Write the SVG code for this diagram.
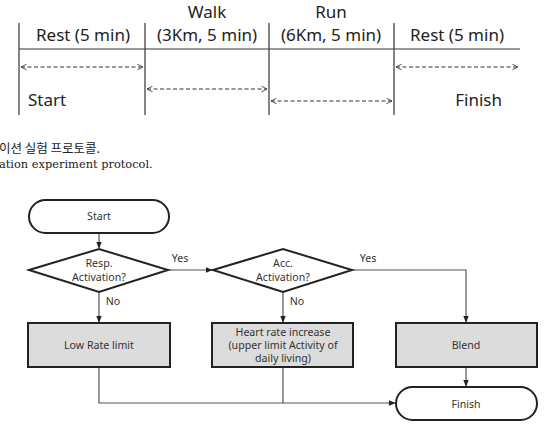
<svg xmlns="http://www.w3.org/2000/svg" width="550" height="427" viewBox="0 0 550 427">
<defs>
<style>
.top{font-family:"Noto Sans","Open Sans",sans-serif;font-size:17px;fill:#222}
.cap{font-family:"DejaVu Serif","Liberation Serif","Noto Sans CJK KR",serif;font-size:11.4px;fill:#222}
.capk{font-family:"Noto Sans CJK KR",serif;font-size:12.5px;fill:#222}
.ft{font-family:"Noto Sans","Open Sans",sans-serif;font-size:10.6px;fill:#333;text-anchor:middle}
.ln{stroke:#333;stroke-width:1.2;fill:none}
.dash{stroke:#333;stroke-width:1;stroke-dasharray:4,2.5;fill:none}
.node{stroke:#222;stroke-width:2}
.box{fill:#dcdcdc}
.term{fill:#fff}
.con{stroke:#555;stroke-width:1.2;fill:none}
</style>
<marker id="oa" viewBox="0 0 10 10" refX="9" refY="5" markerWidth="7" markerHeight="7" orient="auto-start-reverse"><path d="M1,1 L9,5 L1,9" fill="none" stroke="#333" stroke-width="1.2"/></marker>
<marker id="ah" viewBox="0 0 10 10" refX="9" refY="5" markerWidth="6" markerHeight="6" orient="auto"><path d="M0,1 L10,5 L0,9 Z" fill="#222"/></marker>
</defs>
<g id="protocol">
<line class="ln" x1="19" y1="23" x2="19" y2="115"/>
<line class="ln" x1="145" y1="23" x2="145" y2="115"/>
<line class="ln" x1="269" y1="23" x2="269" y2="115"/>
<line class="ln" x1="394" y1="23" x2="394" y2="115"/>
<line class="ln" x1="19" y1="49" x2="520" y2="49"/>
<text class="top" x="83" y="41" text-anchor="middle">Rest (5 min)</text>
<text class="top" x="207" y="18" text-anchor="middle">Walk</text>
<text class="top" x="207" y="41" text-anchor="middle">(3Km, 5 min)</text>
<text class="top" x="331" y="18" text-anchor="middle">Run</text>
<text class="top" x="331" y="41" text-anchor="middle">(6Km, 5 min)</text>
<text class="top" x="457" y="41" text-anchor="middle">Rest (5 min)</text>
<line class="dash" x1="21" y1="67" x2="143" y2="67" marker-start="url(#oa)" marker-end="url(#oa)"/>
<line class="dash" x1="147" y1="89" x2="267" y2="89" marker-start="url(#oa)" marker-end="url(#oa)"/>
<line class="dash" x1="271" y1="101" x2="392" y2="101" marker-start="url(#oa)" marker-end="url(#oa)"/>
<line class="dash" x1="396" y1="67" x2="518" y2="67" marker-start="url(#oa)" marker-end="url(#oa)"/>
<text class="top" x="28" y="106">Start</text>
<text class="top" x="502" y="106" text-anchor="end">Finish</text>
</g>
<g id="caption">
<text class="capk" x="-1" y="153">이션 실험 프로토콜.</text>
<text class="cap" x="-1" y="168">ation experiment protocol.</text>
</g>
<g id="connectors">
<line class="con" x1="99" y1="233" x2="99" y2="248" marker-end="url(#ah)"/>
<line class="con" x1="168" y1="270" x2="212" y2="270" marker-end="url(#ah)"/>
<line class="con" x1="99" y1="292" x2="99" y2="322" marker-end="url(#ah)"/>
<line class="con" x1="283" y1="292" x2="283" y2="322" marker-end="url(#ah)"/>
<polyline class="con" points="352,270 466,270 466,322" marker-end="url(#ah)"/>
<line class="con" x1="466" y1="367" x2="466" y2="386" marker-end="url(#ah)"/>
<polyline class="con" points="99,367 99,403 395,403" marker-end="url(#ah)"/>
<line class="con" x1="283" y1="367" x2="283" y2="403"/>
<text class="ft" x="180" y="262">Yes</text>
<text class="ft" x="368" y="262">Yes</text>
<text class="ft" x="113" y="305">No</text>
<text class="ft" x="297" y="305">No</text>
</g>
<g id="start"><rect class="node term" x="29" y="200" width="140" height="33" rx="16.5"/><text class="ft" x="99" y="220">Start</text></g>
<g id="resp"><polygon class="node term" points="29,270 99,249 168,270 99,292"/><text class="ft" x="99" y="267">Resp.</text><text class="ft" x="99" y="281">Activation?</text></g>
<g id="acc"><polygon class="node term" points="213,270 283,249 352,270 283,292"/><text class="ft" x="283" y="267">Acc.</text><text class="ft" x="283" y="281">Activation?</text></g>
<g id="low"><rect class="node box" x="28" y="323" width="142" height="44"/><text class="ft" x="99" y="349">Low Rate limit</text></g>
<g id="heart"><rect class="node box" x="212" y="323" width="141" height="44"/><text class="ft" x="283" y="336">Heart rate increase</text><text class="ft" x="283" y="349">(upper limit Activity of</text><text class="ft" x="283" y="362">daily living)</text></g>
<g id="blend"><rect class="node box" x="396" y="323" width="141" height="44"/><text class="ft" x="466" y="349">Blend</text></g>
<g id="finish"><rect class="node term" x="396" y="387" width="141" height="33" rx="16.5"/><text class="ft" x="466" y="408">Finish</text></g>
</svg>
